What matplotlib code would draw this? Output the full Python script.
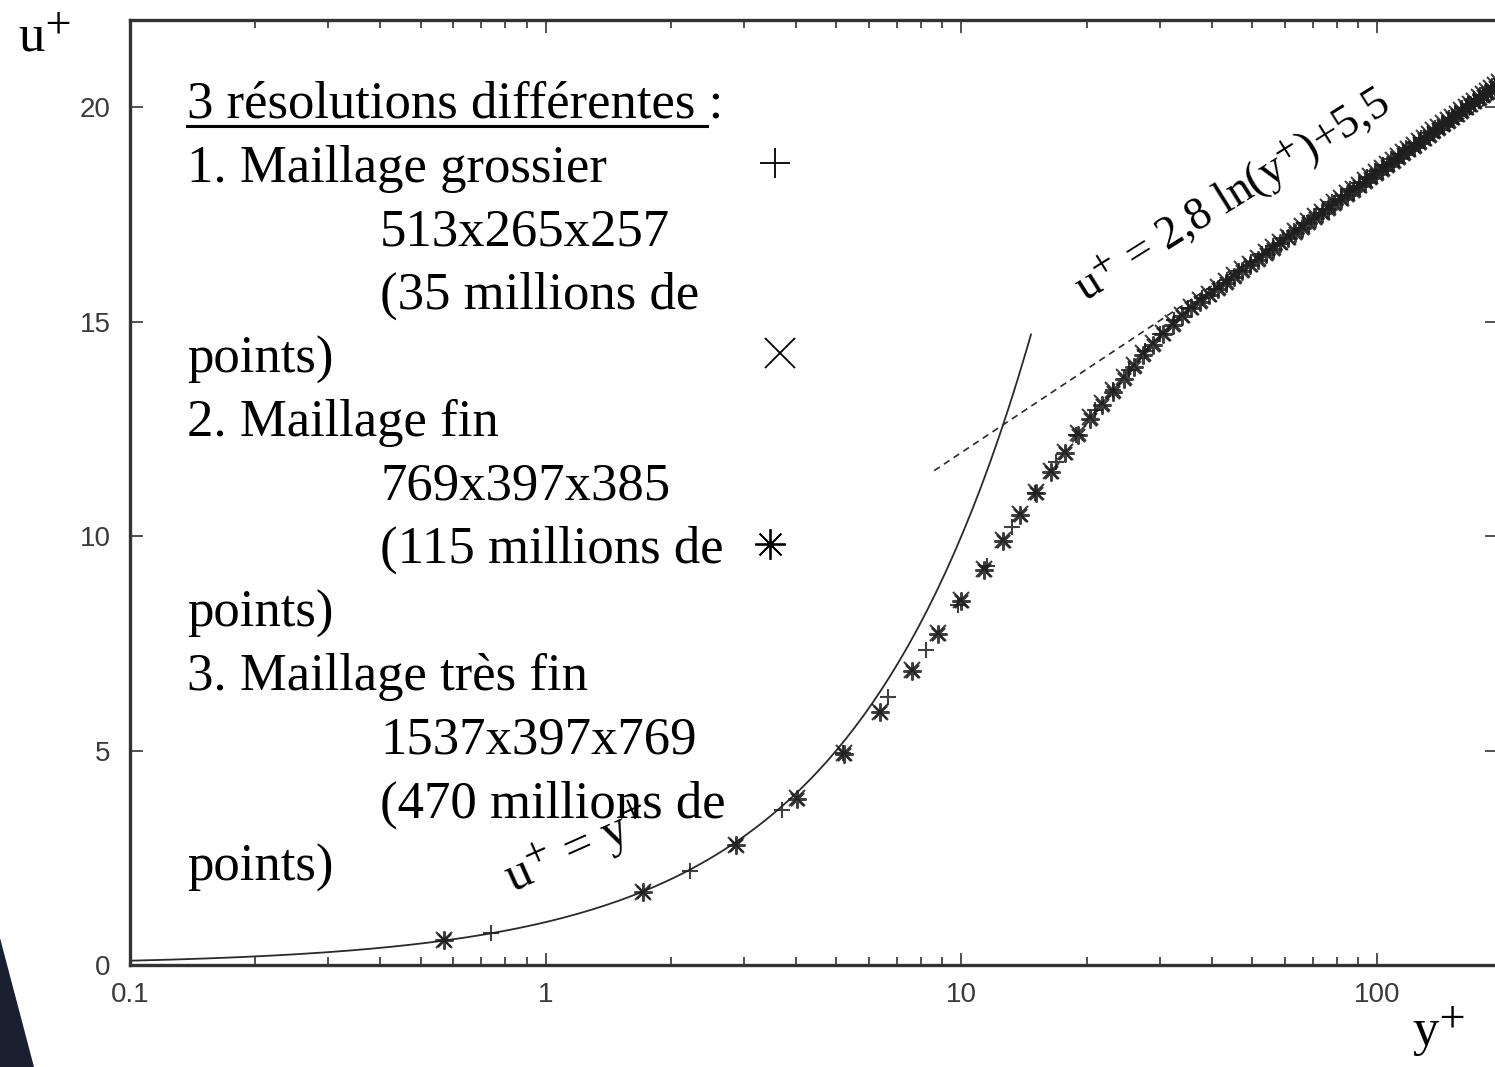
import numpy as np
import matplotlib.pyplot as plt
from matplotlib.lines import Line2D
from matplotlib.patches import Polygon

plt.rcParams['mathtext.fontset'] = 'stix'

W, H = 1495, 1067

# Mean velocity profiles u+ (y+), three mesh resolutions
# fine and very fine meshes share the same wall-normal grid (397 points)
yplus_fine = [0.57, 1.71, 2.87, 4.03, 5.23, 6.37, 7.60, 8.79, 10.0, 11.3,
              12.6, 13.8, 15.1, 16.4, 17.7, 19.1, 20.4, 21.8, 23.2, 24.6,
              26.0, 27.4, 28.9, 30.5, 32.2, 33.9, 35.7, 37.5, 39.4, 41.3,
              43.3, 45.3, 47.4, 49.5, 51.7, 53.9, 56.2, 58.5, 60.9, 63.3,
              65.8, 68.3, 70.9, 73.5, 76.2, 78.9, 81.7, 84.5, 87.4, 90.3,
              93.3, 96.3, 99.4, 102.5, 105.7, 108.9, 112.2, 115.5, 118.9, 122.3,
              125.8, 129.3, 132.9, 136.5, 140.2, 143.9, 147.7, 151.5, 155.4, 159.3,
              163.3, 167.3, 171.4, 175.5, 179.7, 183.9, 188.2, 192.5, 196.9]
uplus_fine = [0.58, 1.70, 2.80, 3.89, 4.94, 5.90, 6.88, 7.74, 8.51, 9.22,
              9.91, 10.51, 11.03, 11.52, 11.96, 12.40, 12.77, 13.10, 13.40, 13.71,
              13.99, 14.27, 14.50, 14.74, 14.97, 15.16, 15.35, 15.50, 15.65, 15.80,
              15.94, 16.08, 16.22, 16.35, 16.48, 16.61, 16.74, 16.86, 16.98, 17.10,
              17.22, 17.34, 17.45, 17.56, 17.67, 17.78, 17.89, 17.99, 18.09, 18.19,
              18.29, 18.39, 18.49, 18.58, 18.67, 18.76, 18.86, 18.95, 19.03, 19.12,
              19.21, 19.29, 19.37, 19.46, 19.54, 19.62, 19.70, 19.78, 19.85, 19.93,
              20.01, 20.08, 20.15, 20.23, 20.30, 20.37, 20.44, 20.51, 20.58]
uplus_vfine = [0.58, 1.70, 2.80, 3.88, 4.93, 5.89, 6.86, 7.72, 8.49, 9.20,
               9.88, 10.48, 11.00, 11.49, 11.93, 12.36, 12.73, 13.06, 13.36, 13.67,
               13.95, 14.23, 14.46, 14.70, 14.93, 15.12, 15.31, 15.46, 15.61, 15.76,
               15.90, 16.04, 16.18, 16.31, 16.44, 16.57, 16.70, 16.82, 16.94, 17.06,
               17.18, 17.30, 17.41, 17.52, 17.63, 17.74, 17.85, 17.95, 18.05, 18.15,
               18.25, 18.35, 18.45, 18.54, 18.63, 18.72, 18.82, 18.91, 18.99, 19.08,
               19.17, 19.25, 19.33, 19.42, 19.50, 19.58, 19.66, 19.74, 19.81, 19.89,
               19.97, 20.04, 20.11, 20.19, 20.26, 20.33, 20.40, 20.47, 20.54]
yplus_coarse = [0.74, 2.22, 3.70, 5.18, 6.66, 8.2, 9.8, 11.5, 13.2, 15.0,
                16.9, 18.9, 21.0, 23.1, 25.3, 27.6, 30.0, 32.5, 35.1, 37.8,
                40.6, 43.5, 46.5, 49.6, 52.8, 56.1, 59.5, 63.0, 66.6, 70.3,
                74.1, 78.0, 82.0, 86.1, 90.3, 94.6, 99.0, 103.5, 108.1, 112.8,
                117.6, 122.5, 127.5, 132.6, 137.8, 143.1, 148.5, 154.0, 159.6, 165.3,
                171.1, 177.0, 183.0, 189.1, 195.3]
uplus_coarse = [0.74, 2.20, 3.62, 4.95, 6.25, 7.35, 8.40, 9.30, 10.22, 11.00,
                11.72, 12.36, 12.93, 13.40, 13.87, 14.32, 14.70, 15.03, 15.31, 15.55,
                15.77, 15.98, 16.19, 16.39, 16.58, 16.76, 16.94, 17.12, 17.29, 17.46,
                17.62, 17.78, 17.93, 18.08, 18.23, 18.37, 18.51, 18.65, 18.78, 18.91,
                19.04, 19.16, 19.28, 19.40, 19.52, 19.64, 19.75, 19.86, 19.97, 20.08,
                20.18, 20.28, 20.38, 20.48, 20.58]

# wall laws
visc_range = (0.1, 14.7)          # u+ = y+
log_range = (8.6, 195.0)          # u+ = 2.8 ln(y+) + 5.5
log_slope, log_const = 2.8, 5.5

legend_lines = [
    (0, '3 résolutions différentes :'),
    (0, '1. Maillage grossier'),
    (1, '513x265x257'),
    (1, '(35 millions de'),
    (0, 'points)'),
    (0, '2. Maillage fin'),
    (1, '769x397x385'),
    (1, '(115 millions de'),
    (0, 'points)'),
    (0, '3. Maillage très fin'),
    (1, '1537x397x769'),
    (1, '(470 millions de'),
    (0, 'points)'),
]


def px(x, y):
    """pixel position (from top-left) -> figure fraction"""
    return x / W, 1 - y / H


fig = plt.figure(figsize=(W / 100, H / 100), dpi=100)
ax = fig.add_axes([130 / W, 102 / H, 1367 / W, 945 / H])

ink = '#2a2a2a'
ax.set_xscale('log')
ax.set_xlim(0.1, 194.2)
ax.set_ylim(0, 22.03)

# wall laws
yv = np.geomspace(*visc_range, 200)
ax.plot(yv, yv, color=ink, lw=1.3, zorder=2)
yl = np.geomspace(*log_range, 200)
ax.plot(yl, log_slope * np.log(yl) + log_const, color=ink, lw=1.2,
        dashes=(4, 3), zorder=2)

# simulation data
mk = dict(ls='none', color='#1e1e1e', mew=1.5, alpha=0.85, zorder=3)
ax.plot(yplus_coarse, uplus_coarse, marker='+', ms=12, **mk)
ax.plot(yplus_fine, uplus_fine, marker='x', ms=11, **mk)
ax.plot(yplus_fine, uplus_vfine, marker=(8, 2, 0), ms=13, **mk)

# axes styling
for side in ['left', 'bottom', 'top', 'right']:
    ax.spines[side].set_linewidth(2.4)
    ax.spines[side].set_color('#333333')
ax.set_yticks([0, 5, 10, 15, 20])
ax.set_xticks([0.1, 1, 10, 100])
ax.set_xticklabels(['0.1', '1', '10', '100'])
ax.tick_params(which='both', direction='in', top=True, right=True,
               colors='#333333', labelcolor='#3a3a3a', labelsize=20)
ax.tick_params(which='major', length=9, width=1.2)
ax.tick_params(which='minor', length=6, width=1.2)
ax.tick_params(axis='y', pad=14)
ax.tick_params(axis='x', pad=12)
for lab in ax.get_xticklabels() + ax.get_yticklabels():
    lab.set_fontfamily('Liberation Sans')

serif = 'Liberation Serif'

# axis titles
fig.text(*px(18, 52), r'u$^{+}$', fontsize=38, family=serif, va='baseline')
fig.text(*px(1412, 1046), r'y$^{+}$', fontsize=38, family=serif, va='baseline')

# mesh description block
x0, x_indent = 187, 380
base0, step = 118, 63.6
for i, (indent, line) in enumerate(legend_lines):
    xx = x_indent if indent else x0
    t = fig.text(*px(xx, base0 + i * step), line, fontsize=38,
                 family=serif, va='baseline')
    if i == 0:
        fig.canvas.draw()
        tmp = fig.text(*px(xx, base0), '3 résolutions différentes', fontsize=38,
                       family=serif, va='baseline')
        bb = tmp.get_window_extent()
        tmp.remove()
        ul_y = 1 - (base0 + 8) / H
        fig.add_artist(Line2D([bb.x0 / W, (bb.x1 + 12) / W], [ul_y, ul_y],
                              color='black', lw=2.2))

# marker samples, one per mesh
samples = ['+', 'x', (8, 2, 0)]
sample_x = [775, 780, 770]
for k, (m, sx) in enumerate(zip(samples, sample_x)):
    yc = base0 + (1 + 3 * k) * step - 19
    fig.add_artist(Line2D([sx / W], [1 - yc / H], marker=m, ms=22, mew=1.3,
                          color='black', ls='none'))

# wall law labels
ax.text(1.2, 2.7, r'u$^{+}$ = y$^{+}$', fontsize=36, family=serif,
        rotation=24, ha='center', va='center', zorder=5)
ax.text(45, 17.9, r'u$^{+}$ = 2,8 ln(y$^{+}$)+5,5', fontsize=33, family=serif,
        rotation=32, ha='center', va='center', zorder=5)

# dark slide corner
fig.add_artist(Polygon([px(0, 938), px(34, 1067), px(0, 1067)], closed=True,
                       transform=fig.transFigure, facecolor='#1b2030',
                       edgecolor='none'))

fig.savefig('out.png', dpi=100)
